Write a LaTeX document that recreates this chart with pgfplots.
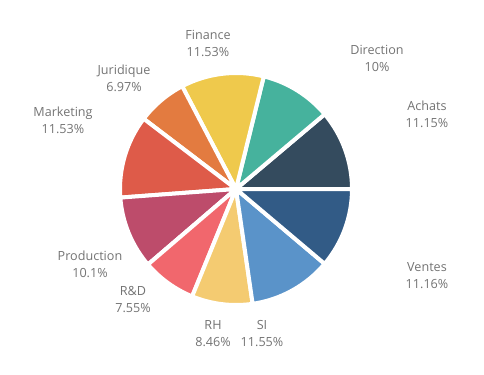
\documentclass[border=0pt]{standalone}
\usepackage{pgfplots}
\usepackage{pgfplotstable}
\pgfplotsset{compat=1.18}
\usepackage{fontspec}
\setmainfont{Open Sans}
\definecolor{c0}{HTML}{344B5E}
\definecolor{c1}{HTML}{46B29D}
\definecolor{c2}{HTML}{EFC94C}
\definecolor{c3}{HTML}{E37B40}
\definecolor{c4}{HTML}{DE5B49}
\definecolor{c5}{HTML}{BD4C6B}
\definecolor{c6}{HTML}{F1676D}
\definecolor{c7}{HTML}{F4CB71}
\definecolor{c8}{HTML}{5A93C9}
\definecolor{c9}{HTML}{325B86}
\definecolor{lbl}{HTML}{737373}
\pgfplotstableread{
pct
11.15
10
11.53
6.97
11.53
10.1
7.55
8.46
11.55
11.16
}\piedata
\begin{document}
\begin{tikzpicture}
\gdef\cum{0}%
\foreach \i in {0,...,9}{%
  \pgfplotstablegetelem{\i}{pct}\of\piedata
  \pgfmathsetmacro\st{\cum*3.6}%
  \pgfmathsetmacro\newcum{\cum+\pgfplotsretval}%
  \pgfmathsetmacro\en{\newcum*3.6}%
  \expandafter\xdef\csname st\i\endcsname{\st}%
  \expandafter\xdef\csname en\i\endcsname{\en}%
  \xdef\cum{\newcum}%
}%
\begin{axis}[
  x=1bp, y=1bp,
  xmin=0, xmax=484, ymin=-374, ymax=0,
  hide axis, clip=false,
]
\pgfplotsinvokeforeach{0,...,9}{
  \fill[fill=c#1, draw=white, line width=4bp, line join=miter]
    (axis cs:236,-189) -- ++(\csname st#1\endcsname:116bp)
    arc[start angle=\csname st#1\endcsname, end angle=\csname en#1\endcsname, radius=116bp] -- cycle;
}
\begin{scope}[every node/.style={align=center, text=lbl, font=\fontsize{12.6bp}{17bp}\selectfont}]
\node at (axis cs:208,-43) {Finance\\11.53\%};
\node at (axis cs:377,-58) {Direction\\10\%};
\node at (axis cs:427,-114) {Achats\\11.15\%};
\node at (axis cs:124,-78) {Juridique\\6.97\%};
\node at (axis cs:63,-120) {Marketing\\11.53\%};
\node at (axis cs:90,-264) {Production\\10.1\%};
\node at (axis cs:133,-300) {R\&D\\7.55\%};
\node at (axis cs:213,-334) {RH\\8.46\%};
\node at (axis cs:262,-334) {SI\\11.55\%};
\node at (axis cs:427,-276) {Ventes\\11.16\%};
\end{scope}
\end{axis}
\pgfresetboundingbox
\path (current axis.south west) rectangle (current axis.north east);
\end{tikzpicture}
\end{document}
